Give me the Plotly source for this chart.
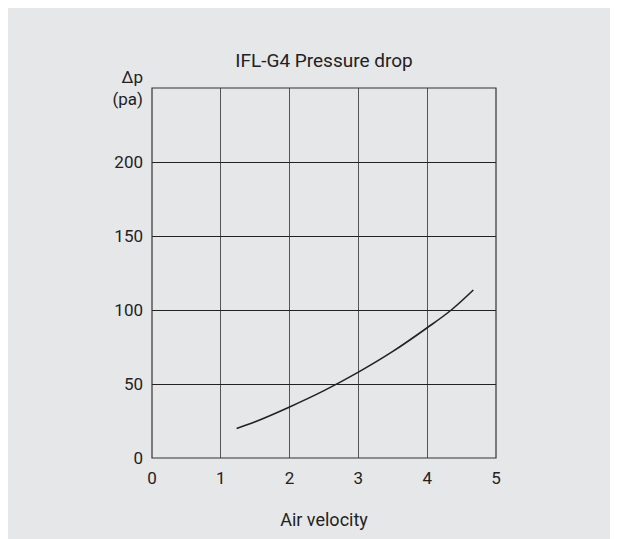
import plotly.graph_objs as go

# Pressure drop curve
air_velocity = [1.23, 1.5, 2.0, 2.5, 3.0, 3.5, 4.0, 4.35, 4.67]
pressure_drop = [20, 24.5, 34.5, 45.5, 58, 72, 88, 100, 113.5]

x_ticks = [0, 1, 2, 3, 4, 5]
y_ticks = [0, 50, 100, 150, 200, 250]
y_labels = ['0', '50', '100', '150', '200', 'Δp<br>(pa)']

bg = '#e6e7e8'

data = [go.Scatter(
    x=air_velocity, y=pressure_drop,
    mode='lines',
    line=dict(color='#222222', width=1.6, shape='spline'),
    showlegend=False,
)]

layout = go.Layout(
    width=618, height=539,
    margin=dict(l=144, r=130, t=80, b=89),
    paper_bgcolor=bg,
    plot_bgcolor=bg,
    font=dict(family='Roboto, DejaVu Sans, sans-serif', size=17, color='#222222'),
    title=dict(
        text='IFL-G4 Pressure drop',
        x=(144 + 488) / 2 / 618, xanchor='center',
        y=1 - 52 / 539, yanchor='middle',
        font=dict(size=19),
    ),
    xaxis=dict(
        range=[0, 5],
        tickvals=x_ticks,
        showgrid=True, gridcolor='#555555', gridwidth=1.2,
        zeroline=False,
        showline=False,
        ticks='', ticklabelstandoff=8,
        title=dict(text='Air velocity', standoff=26, font=dict(size=18)),
    ),
    yaxis=dict(
        range=[0, 250],
        tickvals=y_ticks, ticktext=y_labels,
        showgrid=True, gridcolor='#222222', gridwidth=1,
        zeroline=False,
        showline=False,
        ticks='', ticklabelstandoff=8,
    ),
    shapes=[
        # plot frame
        dict(type='rect', xref='paper', yref='paper',
             x0=0, x1=1, y0=0, y1=1,
             line=dict(color='#333333', width=1.2)),
    ],
)

fig = go.Figure(data=data, layout=layout)
fig.write_html('out.html', config=dict(displayModeBar=False))
